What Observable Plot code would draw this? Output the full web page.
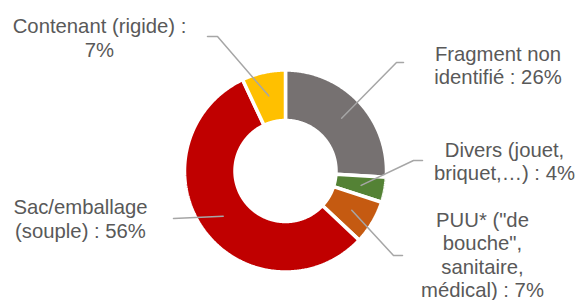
<!DOCTYPE html>
<html><head><meta charset="utf-8">
<script src="https://cdn.jsdelivr.net/npm/d3@7"></script>
<script src="https://cdn.jsdelivr.net/npm/@observablehq/plot@0.6"></script>
<style>html,body{margin:0;padding:0;background:#fff} #chart svg{display:block}</style>
</head><body><div id="chart"></div>
<script>
// ---- data ----
const categories = ["Fragment non identifié", "Divers (jouet, briquet,…)", "PUU* (\"de bouche\", sanitaire, médical)", "Sac/emballage (souple)", "Contenant (rigide)"];
const values = [26, 4, 7, 56, 7];
const labelTexts = ["Fragment non\nidentifié : 26%", "Divers (jouet,\nbriquet,…) : 4%", "PUU* (\"de\nbouche\",\nsanitaire,\nmédical) : 7%", "Sac/emballage\n(souple) : 56%", "Contenant (rigide) :\n7%"];
const colors = ["#767171", "#548235", "#C55A11", "#C00000", "#FFC000"];

// ---- layout (pixels) ----
const W = 579, H = 300, cx = 285, cy = 170.5, rOuter = 101, rInner = 50.5, rLeader = 77;
const fontSize = 20.3, lineHeight = 1.16;
const labelPos = [[497.5, 72], [504, 168], [482, 261.5], [80, 225.5], [99, 44.3]]; // x center, mean baseline
const leaderEnds = [[[396, 62], [403, 62]], [[413, 160], [422, 160]], [[393, 255], [402, 255]], [[173, 218], [173, 218]], [[217, 36], [207, 36]]];

const arcs = d3.pie().sort(null).startAngle(0).endAngle(2 * Math.PI)(values);
const pt = (a, r) => [cx + r * Math.sin(a), cy - r * Math.cos(a)];

const slicePts = [];
arcs.forEach((d, i) => {
  const n = Math.max(4, Math.ceil((d.endAngle - d.startAngle) / 0.01));
  const poly = [];
  for (let k = 0; k <= n; k++) poly.push(pt(d.startAngle + (d.endAngle - d.startAngle) * k / n, rOuter));
  for (let k = n; k >= 0; k--) poly.push(pt(d.startAngle + (d.endAngle - d.startAngle) * k / n, rInner));
  poly.push(poly[0]);
  poly.forEach(([x, y]) => slicePts.push({cat: categories[i], x, y}));
});

const leaderPts = [];
arcs.forEach((d, i) => {
  const mid = (d.startAngle + d.endAngle) / 2;
  const [sx, sy] = pt(mid, rLeader);
  leaderPts.push({cat: categories[i], x: sx, y: sy});
  leaderEnds[i].forEach(([x, y]) => leaderPts.push({cat: categories[i], x, y}));
});

const labelData = categories.map((c, i) => ({
  cat: c, text: labelTexts[i], x: labelPos[i][0], y: labelPos[i][1] - 0.32 * lineHeight * fontSize
}));

const chart = Plot.plot({
  width: W, height: H, margin: 0,
  x: {domain: [0, W], range: [0, W], axis: null},
  y: {domain: [0, H], range: [0, H], axis: null},
  color: {domain: categories, range: colors},
  style: {fontFamily: "'Liberation Sans', Arial, sans-serif", background: "#fff", overflow: "visible"},
  marks: [
    Plot.line(slicePts, {x: "x", y: "y", z: "cat", fill: "cat", stroke: "white", strokeWidth: 3.5, curve: "linear", strokeLinejoin: "miter"}),
    Plot.line(leaderPts, {x: "x", y: "y", z: "cat", stroke: "#A6A6A6", strokeWidth: 1.5, curve: "linear"}),
    Plot.text(labelData, {x: "x", y: "y", text: "text", textAnchor: "middle", lineAnchor: "middle", lineHeight, fontSize, fill: "#595959"})
  ]
});
document.getElementById("chart").appendChild(chart);
</script>
</body></html>
